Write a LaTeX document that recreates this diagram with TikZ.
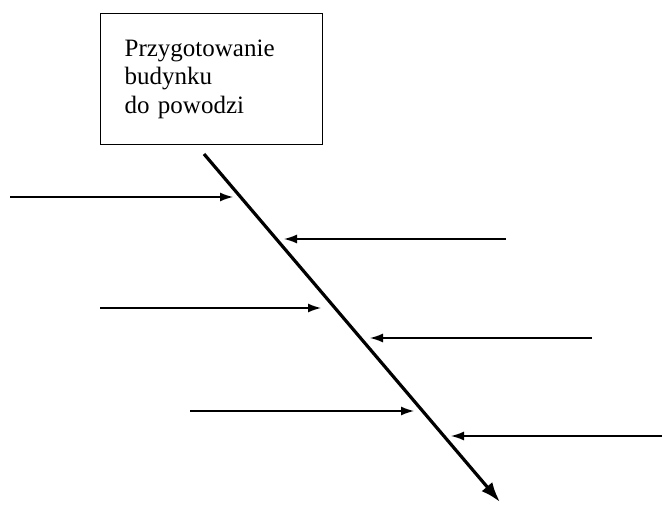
\documentclass[tikz,border=0pt]{standalone}
\usepackage{fontspec}
\setmainfont{Liberation Serif}
\usetikzlibrary{arrows.meta}

\begin{document}
\begin{tikzpicture}[
  x=1pt, y=-1pt,
  effect/.style={draw, line width=1.3pt, anchor=north west, minimum width=222pt, minimum height=131pt, inner xsep=24pt, text width=174pt, align=left, font=\fontsize{25}{28.5}\selectfont},
  spine/.style={-{Latex[length=20pt, width=14pt]}, line width=3.2pt},
  rib/.style={-{Latex[length=13pt, width=9pt]}, line width=1.4pt}
]
\useasboundingbox (0,0) rectangle (664,505);

\node[effect] (goal) at (100,13) {Przygotowanie\\budynku\\do powodzi};

% main bone
\coordinate (tail) at (204,154);
\coordinate (head) at (500,502);
\draw[spine] (tail) -- (head);

% causes from the left
\coordinate (l1) at (10,197);  \coordinate (lt1) at (233,197);
\coordinate (l2) at (100,308); \coordinate (lt2) at (321,308);
\coordinate (l3) at (190,411); \coordinate (lt3) at (414,411);
\draw[rib] (l1) -- (lt1);
\draw[rib] (l2) -- (lt2);
\draw[rib] (l3) -- (lt3);

% causes from the right
\coordinate (r1) at (506,239); \coordinate (rt1) at (284,239);
\coordinate (r2) at (592,338); \coordinate (rt2) at (370,338);
\coordinate (r3) at (662,436); \coordinate (rt3) at (451,436);
\draw[rib] (r1) -- (rt1);
\draw[rib] (r2) -- (rt2);
\draw[rib] (r3) -- (rt3);
\end{tikzpicture}
\end{document}
